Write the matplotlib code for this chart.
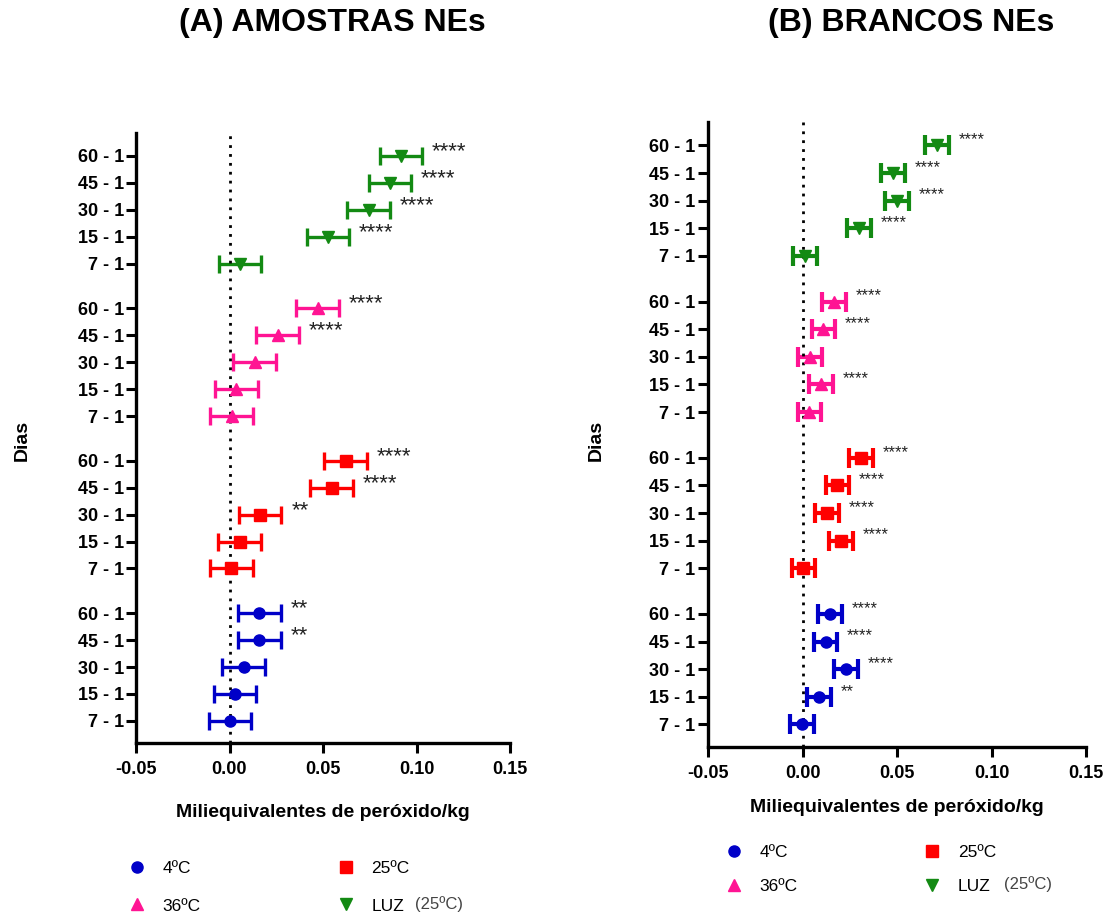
import matplotlib
matplotlib.use('Agg')
import matplotlib.pyplot as plt
from matplotlib.lines import Line2D

plt.rcParams['font.family'] = ['Liberation Sans', 'DejaVu Sans']

# comparações (dia - dia 1), de baixo para cima dentro de cada grupo
comparacoes = ['7 - 1', '15 - 1', '30 - 1', '45 - 1', '60 - 1']
grupos = ['4ºC', '25ºC', '36ºC', 'LUZ']
cores = ['#0000c8', '#ff0000', '#ff1493', '#138a13']
marcadores = ['o', 's', '^', 'v']

# (A) amostras NEs - diferença média e meio-intervalo
amostras_4 = [0.0002, 0.0030, 0.0075, 0.0160, 0.0160]
amostras_25 = [0.0009, 0.0054, 0.0164, 0.0547, 0.0622]
amostras_36 = [0.0011, 0.0036, 0.0134, 0.0257, 0.0471]
amostras_luz = [0.0057, 0.0526, 0.0745, 0.0859, 0.0917]
amostras_erro = 0.0114
amostras_sig_4 = ['', '', '', '**', '**']
amostras_sig_25 = ['', '', '**', '****', '****']
amostras_sig_36 = ['', '', '', '****', '****']
amostras_sig_luz = ['', '****', '****', '****', '****']

# (B) brancos NEs
brancos_4 = [-0.0002, 0.0086, 0.0229, 0.0122, 0.0146]
brancos_25 = [0.0005, 0.0203, 0.0130, 0.0185, 0.0309]
brancos_36 = [0.0037, 0.0100, 0.0039, 0.0111, 0.0167]
brancos_luz = [0.0014, 0.0300, 0.0499, 0.0477, 0.0713]
brancos_erro = 0.0063
brancos_sig_4 = ['', '**', '****', '****', '****']
brancos_sig_25 = ['', '****', '****', '****', '****']
brancos_sig_36 = ['', '****', '', '****', '****']
brancos_sig_luz = ['', '****', '****', '****', '****']

x_ticks = [-0.05, 0.0, 0.05, 0.10, 0.15]
x_labels = ['-0.05', '0.00', '0.05', '0.10', '0.15']
gap = 1.66


def painel(ax, series, erro, sigs, star_size, star_dy, cap, lw, labelpad, ypad):
    n = len(comparacoes)
    yticks, ylabels = [], []
    for g, (vals, sig) in enumerate(zip(series, sigs)):
        ys = [g * (n - 1 + gap) + r for r in range(n)]
        ax.errorbar(vals, ys, xerr=erro, fmt=marcadores[g], color=cores[g],
                    ms=8, elinewidth=lw, capsize=cap, capthick=lw)
        for x, y, s in zip(vals, ys, sig):
            if s:
                ax.annotate(s, (x + erro, y), xytext=(7, star_dy),
                            textcoords='offset points', fontsize=star_size,
                            color='#222222', va='center', ha='left')
        yticks += ys
        ylabels += comparacoes
    top = (len(series) - 1) * (n - 1 + gap) + n - 1
    ax.axvline(0, color='black', linestyle=(0, (1, 2.2)), lw=2)
    ax.set_ylim(-0.82, top + 0.85)
    ax.set_xlim(-0.05, 0.15)
    ax.set_xticks(x_ticks, x_labels)
    ax.set_yticks(yticks, ylabels)
    for lab in ax.get_xticklabels() + ax.get_yticklabels():
        lab.set_fontweight('bold')
        lab.set_fontsize(13)
    ax.tick_params(width=2.2, length=7)
    ax.tick_params(axis='x', pad=6)
    ax.tick_params(axis='y', pad=ypad)
    ax.spines[['top', 'right']].set_visible(False)
    ax.spines[['left', 'bottom']].set_linewidth(2.4)
    ax.set_xlabel('Miliequivalentes de peróxido/kg', fontsize=14,
                  fontweight='bold', labelpad=labelpad)


fig = plt.figure(figsize=(11.18, 9.15), dpi=100)
W, H = 1118, 915


def eixo(x0, y0, x1, y1):
    return fig.add_axes([x0 / W, 1 - y1 / H, (x1 - x0) / W, (y1 - y0) / H])


ax1 = eixo(136, 133, 510, 743)
painel(ax1, [amostras_4, amostras_25, amostras_36, amostras_luz], amostras_erro,
       [amostras_sig_4, amostras_sig_25, amostras_sig_36, amostras_sig_luz],
       16, 3, 6.5, 2.4, 19, 1.5)

ax2 = eixo(708, 122, 1086, 747)
painel(ax2, [brancos_4, brancos_25, brancos_36, brancos_luz], brancos_erro,
       [brancos_sig_4, brancos_sig_25, brancos_sig_36, brancos_sig_luz],
       12, 4, 7.5, 3.0, 12, 2)

fig.text(332 / W, 1 - 23 / H, '(A) AMOSTRAS NEs', fontsize=23,
         fontweight='bold', ha='center', va='center')
fig.text(911 / W, 1 - 23 / H, '(B) BRANCOS NEs', fontsize=23,
         fontweight='bold', ha='center', va='center')
fig.text(22 / W, 1 - 440 / H, 'Dias', rotation=90, fontsize=14,
         fontweight='bold', ha='center', va='center')
fig.text(596 / W, 1 - 440 / H, 'Dias', rotation=90, fontsize=14,
         fontweight='bold', ha='center', va='center')

# legendas (ordem por coluna: 4, 36 | 25, LUZ)
handles = [Line2D([], [], ls='none', marker=m, color=c, ms=8)
           for m, c in zip(marcadores, cores)]
ordem = [0, 2, 1, 3]
for (lx, ly, spacing, colsp) in [(118, 852, 1.3, 7.8), (715, 836, 1.12, 7.2)]:
    fig.legend([handles[i] for i in ordem], [grupos[i] for i in ordem],
               ncol=2, frameon=False, fontsize=12.5, loc='upper left',
               bbox_to_anchor=(lx / W, 1 - ly / H), handlelength=1.15,
               handletextpad=0.9, columnspacing=colsp, labelspacing=spacing,
               borderpad=0)

fig.text(415 / W, 1 - 904 / H, '(25ºC)', fontsize=12, color='#444444',
         va='center')
fig.text(1004 / W, 1 - 884 / H, '(25ºC)', fontsize=12, color='#444444',
         va='center')

fig.savefig('out.png', dpi=100)
